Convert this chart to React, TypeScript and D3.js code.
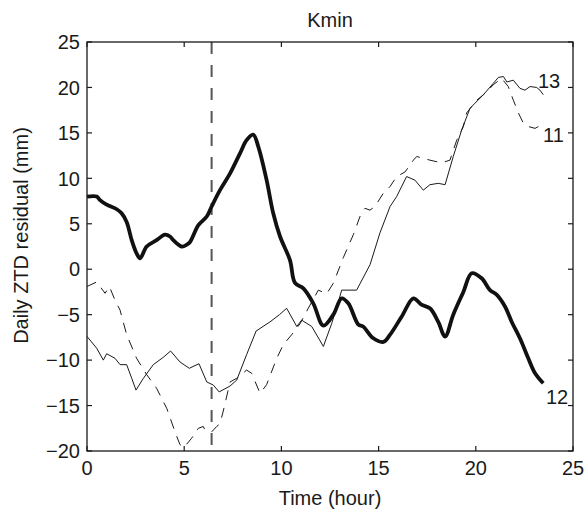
import React from "react";
import * as d3 from "d3";

const title = "Kmin";
const xLabel = "Time (hour)";
const yLabel = "Daily ZTD residual (mm)";
const xTicks = [0, 5, 10, 15, 20, 25];
const yTicks = [-20, -15, -10, -5, 0, 5, 10, 15, 20, 25];
const markerHour = 6.41;

// Station 12 (thick solid)
const s12Hours = [0, 0.5, 0.67, 1.01, 1.53, 1.78, 2.04, 2.3, 2.55, 2.73, 3.07, 3.58, 4.01, 4.27, 4.44, 4.87, 5.13, 5.3, 5.73, 6.16, 6.41, 6.84, 7.36, 7.87, 8.21, 8.55, 8.81, 9.24, 9.58, 9.93, 10.44, 10.7, 11.13, 11.64, 12.16, 12.67, 13.1, 13.44, 13.96, 14.2, 14.73, 15.24, 15.59, 16.19, 16.79, 17.2, 17.64, 18.07, 18.42, 18.84, 19.36, 19.79, 20.3, 20.73, 21.07, 21.5, 21.85, 22.27, 22.7, 23.05, 23.47];
const s12Values = [8.0, 8.0, 7.6, 7.1, 6.6, 6.15, 5.2, 3.2, 1.75, 1.2, 2.5, 3.2, 3.8, 3.6, 3.2, 2.5, 2.7, 3.0, 4.85, 5.8, 6.9, 8.7, 10.55, 12.75, 14.2, 14.8, 13.5, 9.8, 6.15, 3.6, 1.0, -1.5, -2.1, -3.75, -6.2, -5.0, -3.2, -3.75, -6.1, -6.3, -7.6, -8.0, -7.2, -5.2, -3.2, -3.9, -4.3, -5.8, -7.4, -5.0, -2.5, -0.45, -1.0, -2.3, -2.8, -4.1, -5.8, -7.6, -9.8, -11.45, -12.55];

// Station 13 (thin solid)
const s13Hours = [0, 0.5, 0.84, 1.01, 1.44, 1.7, 2.04, 2.3, 2.52, 2.9, 3.41, 3.92, 4.3, 4.78, 5.26, 5.76, 6.16, 6.5, 6.8, 7.36, 7.7, 8.21, 8.7, 9.41, 9.9, 10.27, 10.79, 11.04, 11.56, 12.16, 12.59, 12.93, 13.1, 13.87, 14.56, 15.07, 15.59, 15.93, 16.44, 16.87, 17.3, 17.64, 18.07, 18.42, 18.84, 19.27, 19.7, 20.39, 20.9, 21.16, 21.42, 21.6, 21.93, 22.27, 22.53, 22.79, 23.13, 23.3, 23.47];
const s13Values = [-7.4, -8.7, -10.0, -9.3, -9.8, -10.5, -10.5, -12.0, -13.3, -12.0, -10.5, -9.7, -9.0, -10.2, -10.9, -10.4, -12.4, -12.75, -13.5, -12.85, -12.2, -9.4, -6.8, -5.8, -5.0, -4.3, -6.3, -5.6, -6.3, -8.5, -5.95, -3.6, -2.3, -2.3, 0.5, 4.0, 6.9, 8.0, 10.2, 9.8, 8.7, 9.3, 9.45, 9.3, 12.4, 15.3, 17.7, 19.2, 20.45, 21.1, 21.2, 20.6, 20.8, 19.9, 19.7, 20.1, 20.0, 19.7, 19.2];

// Station 11 (thin dashed)
const s11Hours = [0, 0.5, 0.93, 1.15, 1.44, 1.7, 2.04, 2.55, 3.07, 3.58, 4.1, 4.53, 4.78, 4.99, 5.38, 5.73, 5.98, 6.07, 6.41, 6.67, 6.84, 7.01, 7.36, 7.7, 8.21, 8.47, 8.9, 9.24, 9.76, 10.1, 10.53, 10.96, 11.38, 11.9, 12.33, 12.67, 13.19, 13.7, 14.13, 14.3, 14.56, 14.81, 15.24, 15.59, 15.93, 16.36, 16.79, 16.96, 17.64, 18.24, 18.67, 19.02, 19.36, 19.53, 20.05, 20.56, 20.9, 21.33, 21.67, 21.93, 22.19, 22.45, 22.7, 23.05, 23.22];
const s11Values = [-1.9, -1.4, -2.65, -1.9, -3.4, -4.5, -7.2, -9.8, -11.6, -13.1, -15.3, -17.9, -19.3, -19.6, -18.6, -17.5, -17.3, -17.7, -17.9, -17.3, -17.0, -15.6, -12.4, -12.0, -11.1, -11.45, -13.65, -12.7, -9.8, -8.3, -7.2, -6.0, -4.3, -2.3, -2.7, -1.55, 1.3, 3.8, 6.3, 6.7, 6.5, 6.9, 8.35, 9.1, 10.2, 10.7, 12.0, 12.4, 12.0, 11.7, 12.0, 14.2, 15.7, 17.2, 18.6, 19.5, 20.3, 21.0, 20.1, 18.6, 17.2, 16.05, 15.7, 15.5, 15.7];

const seriesLabels = ["13", "11", "12"];

const W = 584;
const H = 515;
const left = 87;
const right = 573;
const top = 42;
const bottom = 451;
const font = "'Liberation Sans', Arial, Helvetica, sans-serif";
const ink = "#1a1a1a";

export default function App() {
  const x = d3.scaleLinear().domain([0, 25]).range([left, right]);
  const y = d3.scaleLinear().domain([-20, 25]).range([bottom, top]);

  const mk = (hs: number[], vs: number[], curve: d3.CurveFactory) =>
    d3
      .line<number>()
      .x((_, i) => x(hs[i]))
      .y((v) => y(v))
      .curve(curve)(vs) || "";

  const p12 = mk(s12Hours, s12Values, d3.curveCatmullRom.alpha(0.5));
  const p13 = mk(s13Hours, s13Values, d3.curveLinear);
  const p11 = mk(s11Hours, s11Values, d3.curveLinear);

  const tl = 5;

  return (
    <svg
      width={W}
      height={H}
      style={{ position: "absolute", left: 0, top: 0, background: "#fff" }}
      fontFamily={font}
    >
      <rect x={0} y={0} width={W} height={H} fill="#fff" />
      {/* vertical marker */}
      <line
        x1={x(markerHour)}
        x2={x(markerHour)}
        y1={top}
        y2={bottom - 4}
        stroke="#555"
        strokeWidth={2}
        strokeDasharray="12,11"
      />
      <path d={p13} fill="none" stroke={ink} strokeWidth={1} />
      <path d={p11} fill="none" stroke={ink} strokeWidth={1} strokeDasharray="10,8" />
      <path d={p12} fill="none" stroke="#111" strokeWidth={3.8} strokeLinejoin="round" />

      {/* frame */}
      <rect x={left} y={top} width={right - left} height={bottom - top} fill="none" stroke={ink} strokeWidth={1.3} />
      {xTicks.map((t) => (
        <g key={"xt" + t}>
          <line x1={x(t)} x2={x(t)} y1={bottom} y2={bottom - tl} stroke={ink} strokeWidth={1.2} />
          <line x1={x(t)} x2={x(t)} y1={top} y2={top + tl} stroke={ink} strokeWidth={1.2} />
          <text x={x(t)} y={475} textAnchor="middle" fontSize={20} fill={ink}>
            {t}
          </text>
        </g>
      ))}
      {yTicks.map((t) => (
        <g key={"yt" + t}>
          <line x1={left} x2={left + tl} y1={y(t)} y2={y(t)} stroke={ink} strokeWidth={1.2} />
          <line x1={right} x2={right - tl} y1={y(t)} y2={y(t)} stroke={ink} strokeWidth={1.2} />
          <text x={80} y={y(t)} dy="0.36em" textAnchor="end" fontSize={20} fill={ink}>
            {t < 0 ? "\u2212" + Math.abs(t) : t}
          </text>
        </g>
      ))}

      {/* series labels */}
      <text x={538} y={88} fontSize={20} fill={ink}>{seriesLabels[0]}</text>
      <text x={543} y={142} fontSize={20} fill={ink}>{seriesLabels[1]}</text>
      <text x={546} y={404} fontSize={20} fill={ink}>{seriesLabels[2]}</text>

      <text x={(left + right) / 2} y={27} textAnchor="middle" fontSize={20} fill={ink}>
        {title}
      </text>
      <text x={(left + right) / 2} y={505} textAnchor="middle" fontSize={20} fill={ink}>
        {xLabel}
      </text>
      <text
        transform={`translate(28, ${(top + bottom) / 2 - 11}) rotate(-90)`}
        textAnchor="middle"
        fontSize={20}
        fill={ink}
      >
        {yLabel}
      </text>
    </svg>
  );
}
